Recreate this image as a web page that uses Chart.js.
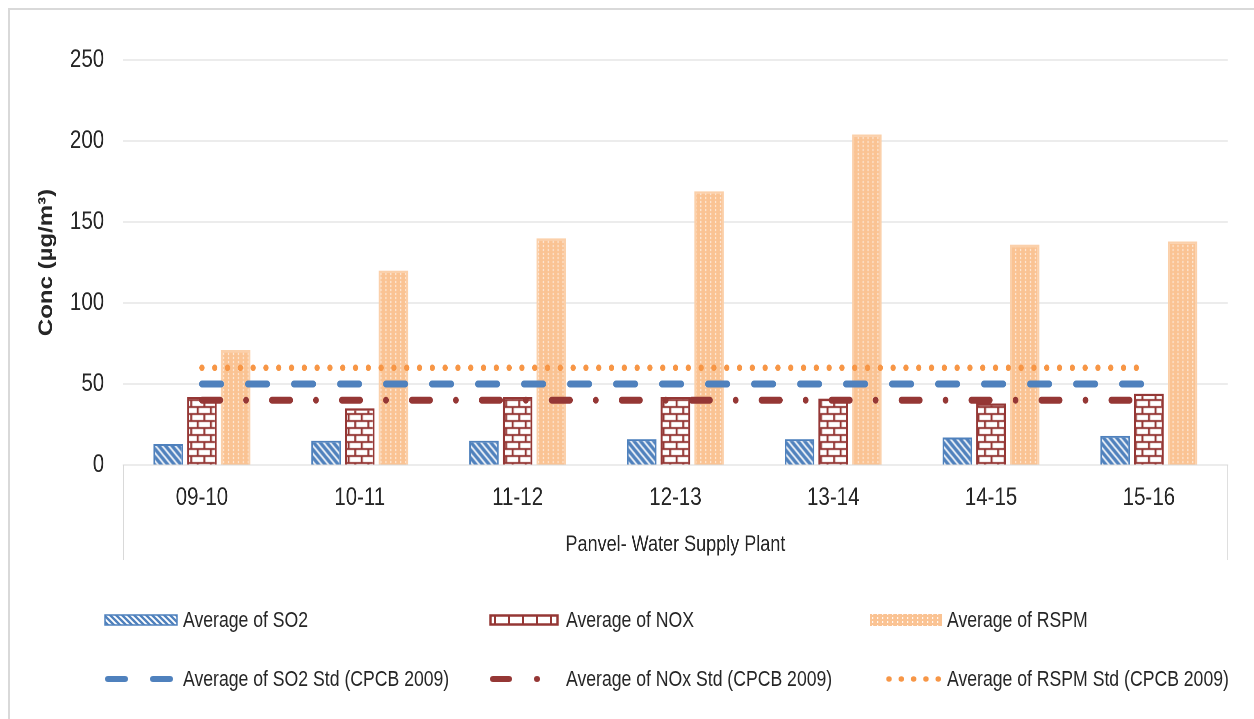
<!DOCTYPE html>
<html>
<head>
<meta charset="utf-8">
<script src="https://cdn.jsdelivr.net/npm/chart.js@4.4.1/dist/chart.umd.min.js"></script>
<style>
  body { margin: 0; background: #fff; }
  #wrap { position: relative; width: 1254px; height: 719px; overflow: hidden; }
  #frame { position: absolute; left: 8px; top: 8px; width: 1300px; height: 800px;
           border-left: 2px solid #d9d9d9; border-top: 2px solid #d9d9d9; }
  /* Liberation Sans squeezed to 82% is the Arial Narrow look of the original */
  #box { position: absolute; left: 0; top: 0; width: 1529px; height: 719px;
         transform: scaleX(0.82); transform-origin: 0 0; }
  .item { position: absolute; height: 30px; font-family: 'Liberation Sans', Arial, sans-serif;
          font-size: 21.5px; color: #262626; white-space: nowrap; }
  .item canvas { position: absolute; left: 0; top: 7px; }
  .item span { position: absolute; top: 3px; transform: scaleX(0.82); transform-origin: 0 0; }
</style>
</head>
<body>
<div id="wrap">
  <div id="frame"></div>
  <div id="box"><canvas id="chart"></canvas></div>
  <div id="legend"></div>
</div>
<script>
const categories = ['09-10', '10-11', '11-12', '12-13', '13-14', '14-15', '15-16'];
const so2Values = [13, 15, 15, 16, 16, 17, 18];
const noxValues = [42, 35, 42, 42, 41, 38, 44];
const rspmValues = [71, 120, 140, 169, 204, 136, 138];
const so2Std = [50, 50, 50, 50, 50, 50, 50];
const noxStd = [40, 40, 40, 40, 40, 40, 40];
const rspmStd = [60, 60, 60, 60, 60, 60, 60];
const yTicks = [0, 50, 100, 150, 200, 250];
const xTitle = 'Panvel- Water Supply Plant';
const yTitle = 'Conc (µg/m³)';

const K = 0.82; // horizontal squeeze of the chart box
const BLUE = '#4f81bd', RED = '#953735', ORANGE = '#f79646';

// fill patterns
function stripes(size) {
    const c = document.createElement('canvas');
    c.width = size; c.height = size;
    const g = c.getContext('2d');
    g.fillStyle = BLUE;
    g.fillRect(0, 0, size, size);
    g.strokeStyle = '#fff';
    g.lineWidth = 1.9;
    g.beginPath();
    for (let o = -size; o <= size; o += size) {
        g.moveTo(o - 2, -2); g.lineTo(o + size + 2, size + 2);
    }
    g.stroke();
    return g.createPattern(c, 'repeat');
}

function bricks() {
    const c = document.createElement('canvas');
    c.width = 16; c.height = 14;
    const g = c.getContext('2d');
    g.fillStyle = '#fff';
    g.fillRect(0, 0, 16, 14);
    g.fillStyle = RED;
    g.fillRect(0, 0, 16, 2);
    g.fillRect(0, 7, 16, 2);
    g.fillRect(0, 0, 2.4, 7);
    g.fillRect(8, 7, 2.4, 7);
    return g.createPattern(c, 'repeat');
}

function dots(w) {
    const c = document.createElement('canvas');
    c.width = w; c.height = 4;
    const g = c.getContext('2d');
    g.fillStyle = '#fac393';
    g.fillRect(0, 0, w, 4);
    g.fillStyle = 'rgba(255,255,255,0.85)';
    g.fillRect(2, 1, 1.2, 2);
    return g.createPattern(c, 'repeat');
}

// lines under the category labels, like a table cell
const axisBox = {
    id: 'axisBox',
    afterDraw(chart) {
        const ctx = chart.ctx, a = chart.chartArea, x = chart.scales.x;
        ctx.save();
        ctx.strokeStyle = '#d9d9d9';
        ctx.lineWidth = 1.2;
        ctx.beginPath();
        ctx.moveTo(a.left + 0.6, a.bottom); ctx.lineTo(a.left + 0.6, x.bottom);
        ctx.moveTo(a.right - 0.6, a.bottom); ctx.lineTo(a.right - 0.6, x.bottom);
        ctx.stroke();
        ctx.restore();
    }
};

Chart.defaults.font.family = "'Liberation Sans', Arial, sans-serif";
Chart.defaults.color = '#262626';

const chart = new Chart(document.getElementById('chart'), {
    type: 'bar',
    data: {
        labels: categories,
        datasets: [
            { label: 'Average of SO2', data: so2Values, backgroundColor: stripes(8), borderColor: BLUE, borderWidth: 2, order: 1 },
            { label: 'Average of NOX', data: noxValues, backgroundColor: bricks(), borderColor: RED, borderWidth: 2.4, order: 1 },
            { label: 'Average of RSPM', data: rspmValues, backgroundColor: dots(6), borderColor: '#fbd0aa', borderWidth: 2.4, order: 1 },
            { type: 'line', label: 'Average of SO2 Std (CPCB 2009)', data: so2Std, borderColor: BLUE, borderWidth: 7,
              borderDash: [23.5, 32.6], borderCapStyle: 'round', pointRadius: 0, fill: false, order: 0 },
            { type: 'line', label: 'Average of NOx Std (CPCB 2009)', data: noxStd, borderColor: RED, borderWidth: 7,
              borderDash: [22.3, 31.5, 0.01, 31.5], borderCapStyle: 'round', pointRadius: 0, fill: false, order: 0 },
            { type: 'line', label: 'Average of RSPM Std (CPCB 2009)', data: rspmStd, borderColor: ORANGE, borderWidth: 6.5,
              borderDash: [0.01, 15.6], borderCapStyle: 'round', pointRadius: 0, fill: false, order: 0 }
        ]
    },
    options: {
        responsive: true,
        maintainAspectRatio: false,
        animation: false,
        devicePixelRatio: 2,
        layout: { padding: { left: 39.5, right: 31.7, top: 60, bottom: 159 } },
        datasets: { bar: { categoryPercentage: 0.64, barPercentage: 0.88 } },
        plugins: {
            legend: { display: false },
            tooltip: { enabled: false }
        },
        scales: {
            x: {
                grid: { display: false },
                border: { display: true, color: '#d9d9d9' },
                ticks: { font: { size: 25 }, padding: 10, maxRotation: 0 },
                title: { display: true, text: xTitle, font: { size: 22 }, padding: { top: 4, bottom: 2 } },
                afterFit(scale) { scale.height = 95; }
            },
            y: {
                min: 0,
                max: 250,
                grid: { color: '#d9d9d9', drawTicks: false },
                border: { display: false },
                ticks: { font: { size: 25 }, padding: 23 },
                afterBuildTicks(scale) { scale.ticks = yTicks.map(v => ({ value: v })); },
                title: { display: true, text: yTitle, font: { size: 24, weight: 'bold' }, padding: { top: 3, bottom: 0 } },
                afterFit(scale) { scale.width = 110.5; }
            }
        }
    },
    plugins: [axisBox]
});

// legend, three columns by two rows
const legendCols = [104, 489, 870];
const legendRows = [620, 679];
const legendText = chart.data.datasets.map(d => d.label);

function drawSymbol(g, i) {
    g.lineCap = 'round';
    if (i === 0) {
        g.fillStyle = stripes(6);
        g.fillRect(1, 3, 72, 10);
        g.strokeStyle = BLUE; g.lineWidth = 1.5;
        g.strokeRect(1, 3, 72, 10);
    } else if (i === 1) {
        g.fillStyle = '#fff';
        g.fillRect(1, 3, 68, 10);
        g.strokeStyle = RED; g.lineWidth = 2.5;
        g.strokeRect(1.5, 3.5, 67, 9);
        g.lineWidth = 2;
        g.beginPath();
        for (let x = 6; x < 68; x += 14) { g.moveTo(x, 4); g.lineTo(x, 12); }
        g.stroke();
    } else if (i === 2) {
        g.fillStyle = dots(5);
        g.fillRect(0, 2, 72, 12);
    } else {
        const d = chart.data.datasets[i];
        g.strokeStyle = d.borderColor;
        g.lineWidth = d.borderWidth - 1;
        if (i === 3) g.setLineDash([17, 28]);
        if (i === 4) g.setLineDash([16, 28, 0.01, 30]);
        if (i === 5) g.setLineDash([0.01, 12.3]);
        g.beginPath();
        const x0 = i === 5 ? 19 : 4;
        g.moveTo(x0, 8); g.lineTo(74, 8);
        g.stroke();
    }
}

const legend = document.getElementById('legend');
legendText.forEach((text, i) => {
    const col = i % 3, row = Math.floor(i / 3);
    const div = document.createElement('div');
    div.className = 'item';
    div.style.left = legendCols[col] + 'px';
    div.style.top = (legendRows[row] - 15) + 'px';
    const c = document.createElement('canvas');
    c.width = 78; c.height = 16;
    drawSymbol(c.getContext('2d'), i);
    const s = document.createElement('span');
    s.textContent = text;
    s.style.left = (col === 0 ? 79 : 77) + 'px';
    div.appendChild(c);
    div.appendChild(s);
    legend.appendChild(div);
});
</script>
</body>
</html>
